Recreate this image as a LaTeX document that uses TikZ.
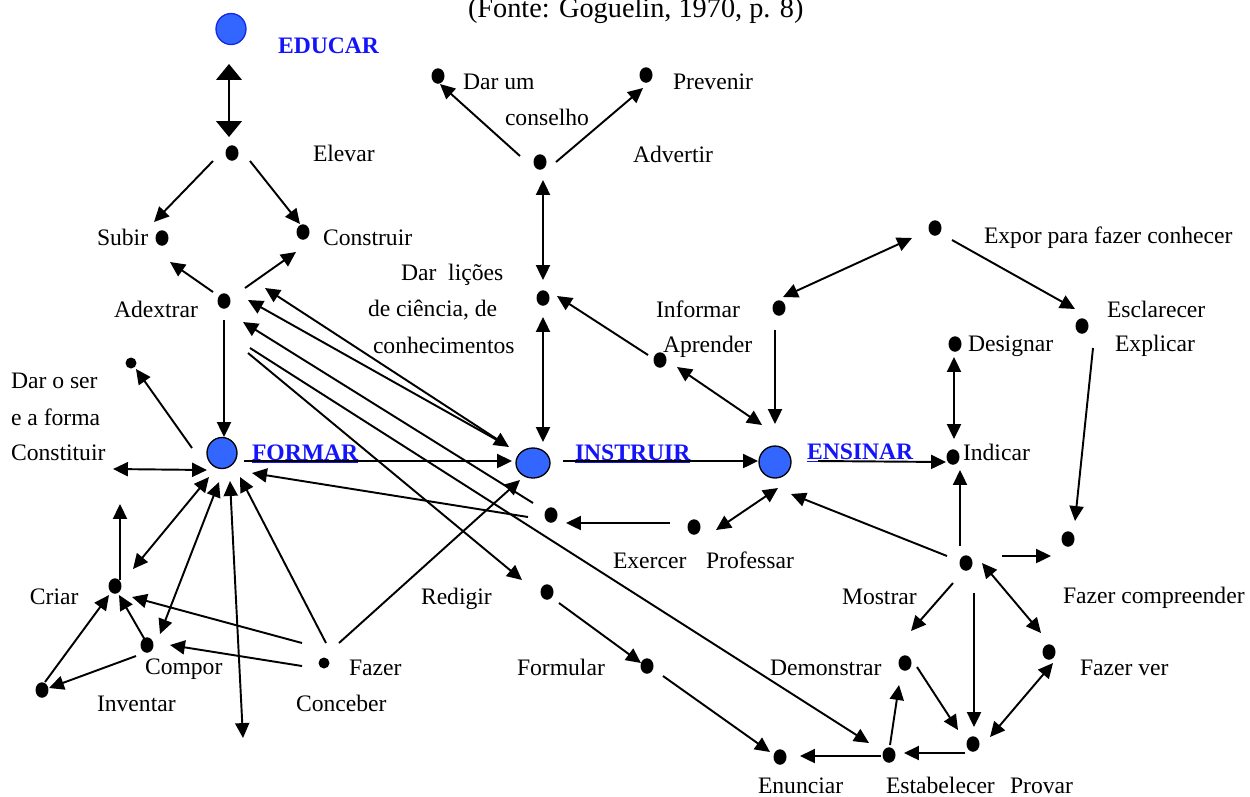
\documentclass[tikz,border=0pt]{standalone}
\usepackage{fontspec}
\setmainfont{Liberation Serif}
\usetikzlibrary{arrows.meta,shapes.geometric}
\definecolor{nodeblue}{RGB}{51,102,255}
\definecolor{txtblue}{RGB}{20,20,250}
\definecolor{educarline}{RGB}{20,40,230}
\begin{document}
\begin{tikzpicture}[x=0.02cm,y=-0.02cm,
  every node/.style={font=\fontsize{13.44pt}{16pt}\selectfont},
  lbl/.style={anchor=base west, inner sep=0pt, outer sep=0pt},
  keylbl/.style={lbl, font=\fontsize{13.44pt}{16pt}\selectfont\bfseries, text=txtblue},
  blackdot/.style={ellipse, fill=black, inner sep=0pt, minimum width=0.26cm, minimum height=0.31cm},
  smalldot/.style={circle, fill=black, inner sep=0pt, minimum size=0.22cm},
  bignode/.style={ellipse, fill=nodeblue, draw=black, line width=0.75pt, inner sep=0pt, minimum width=0.6cm, minimum height=0.62cm},
  conn/.style={line width=1.1pt, -{Triangle[length=8.5pt,width=8pt]}},
  dconn/.style={line width=1.1pt, {Triangle[length=8.5pt,width=8pt]}-{Triangle[length=8.5pt,width=8pt]}},
  bigdconn/.style={line width=1.1pt, {Triangle[length=9pt,width=14.5pt]}-{Triangle[length=9pt,width=14.5pt]}},
]
\fill[white] (0,0) rectangle (1250,796);
\useasboundingbox (0,0) rectangle (1250,796);

% title
\node[lbl, font=\fontsize{16.1pt}{19pt}\selectfont] (title) at (468,17) {(Fonte: Goguelin, 1970, p. 8)};

% main nodes
\node[bignode, draw=educarline] (educar) at (231,29) {};
\node[bignode] (formar) at (222,453) {};
\node[bignode, minimum width=0.68cm, minimum height=0.6cm] (instruir) at (533,463) {};
\node[bignode, minimum width=0.64cm, minimum height=0.64cm] (ensinar) at (775,462) {};

\node[keylbl] (educarlbl) at (278,53) {EDUCAR};
\node[keylbl] (formarlbl) at (252,460) {\underline{FORMAR}};
\node[keylbl] (instruirlbl) at (575,460) {\underline{INSTRUIR}};
\node[keylbl] (ensinarlbl) at (807,459) {\underline{ENSINAR}};

% dots
\node[blackdot] (elevar) at (232,153) {};
\node[blackdot] (subir) at (162,238) {};
\node[blackdot] (construir) at (303,232) {};
\node[blackdot] (adextrar) at (224,301) {};
\node[blackdot] (indicar) at (953,457) {};
\node[blackdot] (designar) at (955,344) {};
\node[blackdot] (mostrar) at (966,563) {};
\node[blackdot] (fazcomp) at (1068,539) {};
\node[blackdot] (esclarecer) at (1082,326) {};
\node[blackdot] (expor) at (935,228) {};
\node[blackdot] (informar) at (779,308) {};
\node[blackdot] (aprender) at (660,360) {};
\node[blackdot] (darlicoes) at (543,298) {};
\node[blackdot] (advertir) at (540,162) {};
\node[blackdot] (conselho) at (438,76) {};
\node[blackdot] (prevenir) at (646,75) {};
\node[smalldot] (darser) at (131,363) {};
\node[blackdot] (criar) at (115,586) {};
\node[blackdot] (compor) at (147,645) {};
\node[blackdot] (inventar) at (42,690) {};
\node[smalldot] (fazer) at (324,663) {};
\node[blackdot] (exercer) at (551,515) {};
\node[blackdot] (professar) at (694,527) {};
\node[blackdot] (redigir) at (547,592) {};
\node[blackdot] (formular) at (647,666) {};
\node[blackdot] (enunciar) at (780,757) {};
\node[blackdot] (estabelecer) at (889,755) {};
\node[blackdot] (demonstrar) at (905,663) {};
\node[blackdot] (provar) at (973,744) {};
\node[blackdot] (fazerver) at (1049,652) {};

% free ends
\coordinate (constituirend) at (113,469);
\coordinate (criarup) at (120,504);
\coordinate (bottomend) at (243,738);

% labels
\node[lbl] (t1) at (313,161) {Elevar};
\node[lbl] (t2) at (97,245) {Subir};
\node[lbl] (t3) at (323,245) {Construir};
\node[lbl] (t4) at (114,317) {Adextrar};
\node[lbl] (t5) at (401,280) {Dar\ \ lições};
\node[lbl] (t6) at (368,316) {de ciência, de};
\node[lbl] (t7) at (373,353) {conhecimentos};
\node[lbl] (t8) at (463,89) {Dar um};
\node[lbl] (t9) at (505,125) {conselho};
\node[lbl] (t10) at (673,89) {Prevenir};
\node[lbl] (t11) at (633,162) {Advertir};
\node[lbl] (t12) at (656,317) {Informar};
\node[lbl] (t13) at (663,352) {Aprender};
\node[lbl] (t14) at (984,243) {Expor para fazer conhecer};
\node[lbl] (t15) at (1107,317) {Esclarecer};
\node[lbl] (t16) at (1115,351) {Explicar};
\node[lbl] (t17) at (968,351) {Designar};
\node[lbl] (t18) at (963,460) {Indicar};
\node[lbl] (t19) at (11,388) {Dar o ser};
\node[lbl] (t20) at (11,425) {e a forma};
\node[lbl] (t21) at (11,460) {Constituir};
\node[lbl] (t22) at (30,604) {Criar};
\node[lbl] (t23) at (145,674) {Compor};
\node[lbl] (t24) at (97,711) {Inventar};
\node[lbl] (t25) at (349,675) {Fazer};
\node[lbl] (t26) at (296,711) {Conceber};
\node[lbl] (t27) at (421,604) {Redigir};
\node[lbl] (t28) at (517,675) {Formular};
\node[lbl] (t29) at (613,568) {Exercer};
\node[lbl] (t30) at (706,568) {Professar};
\node[lbl] (t31) at (842,604) {Mostrar};
\node[lbl] (t32) at (1063,603) {Fazer compreender};
\node[lbl] (t33) at (770,675) {Demonstrar};
\node[lbl] (t34) at (1080,675) {Fazer ver};
\node[lbl] (t35) at (758,793) {Enunciar};
\node[lbl] (t36) at (886,793) {Estabelecer};
\node[lbl] (t37) at (1010,793) {Provar};

% connectors
\draw[bigdconn] ([shift={(-2,35)}]educar.center) -- ([shift={(-3,-16)}]elevar.center);
\draw[conn] ([shift={(-19,8)}]elevar.center) -- ([shift={(-8,-16)}]subir.center);
\draw[conn] ([shift={(18,8)}]elevar.center) -- ([shift={(-3,-8)}]construir.center);
\draw[conn] ([shift={(-11,-9)}]adextrar.center) -- ([shift={(8,24)}]subir.center);
\draw[conn] ([shift={(21,-13)}]adextrar.center) -- ([shift={(-7,20)}]construir.center);
\draw[conn] ([shift={(0,19)}]adextrar.center) -- ([shift={(2,-16)}]formar.center);
\draw[dconn] ([shift={(41,-13)}]adextrar.center) -- ([shift={(-24,-16)}]instruir.center);
\draw[conn] ([shift={(-36,-23)}]instruir.center) -- ([shift={(24,-1)}]adextrar.center);
\draw[conn] ([shift={(-18,-12)}]exercer.center) -- ([shift={(19,21)}]adextrar.center);
\draw[conn] ([shift={(26,47)}]adextrar.center) -- ([shift={(-20,-12)}]estabelecer.center);
\draw[conn] ([shift={(24,52)}]adextrar.center) -- ([shift={(-25,-12)}]redigir.center);
\draw[conn] ([shift={(22,8)}]formar.center) -- ([shift={(-21,-2)}]instruir.center);
\draw[conn] ([shift={(30,-2)}]instruir.center) -- ([shift={(-17,-1)}]ensinar.center);
\draw[conn] ([shift={(43,-1)}]ensinar.center) -- ([shift={(-7,5)}]indicar.center);
\draw[dconn] ([shift={(-1,13)}]designar.center) -- ([shift={(1,-18)}]indicar.center);
\draw[conn] ([shift={(-6,-17)}]mostrar.center) -- ([shift={(7,13)}]indicar.center);
\draw[conn] ([shift={(-19,-7)}]mostrar.center) -- ([shift={(16,32)}]ensinar.center);
\draw[conn] ([shift={(36,-7)}]mostrar.center) -- ([shift={(-17,17)}]fazcomp.center);
\draw[conn] ([shift={(11,22)}]esclarecer.center) -- ([shift={(7,-18)}]fazcomp.center);
\draw[conn] ([shift={(17,12)}]expor.center) -- ([shift={(-7,-17)}]esclarecer.center);
\draw[dconn] ([shift={(-23,10)}]expor.center) -- ([shift={(4,-11)}]informar.center);
\draw[conn] ([shift={(-4,22)}]informar.center) -- ([shift={(0,-38)}]ensinar.center);
\draw[dconn] ([shift={(17,7)}]aprender.center) -- ([shift={(-13,-37)}]ensinar.center);
\draw[conn] ([shift={(-12,-5)}]aprender.center) -- ([shift={(14,-2)}]darlicoes.center);
\draw[dconn] ([shift={(0,19)}]darlicoes.center) -- ([shift={(10,-21)}]instruir.center);
\draw[dconn] ([shift={(3,18)}]advertir.center) -- ([shift={(0,-18)}]darlicoes.center);
\draw[conn] ([shift={(-20,-6)}]advertir.center) -- ([shift={(2,8)}]conselho.center);
\draw[conn] ([shift={(16,0)}]advertir.center) -- ([shift={(-3,13)}]prevenir.center);
\draw[conn] ([shift={(-30,-5)}]formar.center) -- ([shift={(5,6)}]darser.center);
\draw[dconn] (constituirend) -- ([shift={(-15,17)}]formar.center);
\draw[conn] ([shift={(5,-6)}]criar.center) -- (criarup);
\draw[dconn] ([shift={(-13,24)}]formar.center) -- ([shift={(18,-17)}]criar.center);
\draw[dconn] ([shift={(-3,29)}]formar.center) -- ([shift={(13,-11)}]compor.center);
\draw[dconn] ([shift={(8,28)}]formar.center) -- (bottomend);
\draw[conn] ([shift={(2,-20)}]fazer.center) -- ([shift={(18,24)}]formar.center);
\draw[conn] ([shift={(15,-20)}]fazer.center) -- ([shift={(-13,17)}]instruir.center);
\draw[conn] ([shift={(-22,-20)}]fazer.center) -- ([shift={(17,11)}]criar.center);
\draw[conn] ([shift={(-22,3)}]fazer.center) -- ([shift={(23,0)}]compor.center);
\draw[conn] ([shift={(-2,-5)}]compor.center) -- ([shift={(4,9)}]criar.center);
\draw[conn] ([shift={(-11,11)}]compor.center) -- ([shift={(7,-2)}]inventar.center);
\draw[conn] ([shift={(3,-8)}]inventar.center) -- ([shift={(-6,9)}]criar.center);
\draw[conn] ([shift={(-23,2)}]exercer.center) -- ([shift={(30,20)}]formar.center);
\draw[conn] ([shift={(-24,-4)}]professar.center) -- ([shift={(15,8)}]exercer.center);
\draw[dconn] ([shift={(22,3)}]professar.center) -- ([shift={(3,26)}]ensinar.center);
\draw[conn] ([shift={(12,11)}]redigir.center) -- ([shift={(-6,-3)}]formular.center);
\draw[conn] ([shift={(16,10)}]formular.center) -- ([shift={(-10,-5)}]enunciar.center);
\draw[conn] ([shift={(-8,1)}]estabelecer.center) -- ([shift={(20,-1)}]enunciar.center);
\draw[conn] ([shift={(1,-10)}]estabelecer.center) -- ([shift={(-6,22)}]demonstrar.center);
\draw[conn] ([shift={(12,4)}]demonstrar.center) -- ([shift={(-15,-14)}]provar.center);
\draw[conn] ([shift={(-8,9)}]provar.center) -- ([shift={(15,-2)}]estabelecer.center);
\draw[conn] ([shift={(8,30)}]mostrar.center) -- ([shift={(1,-17)}]provar.center);
\draw[conn] ([shift={(-13,20)}]mostrar.center) -- ([shift={(6,-32)}]demonstrar.center);
\draw[dconn] ([shift={(16,0)}]mostrar.center) -- ([shift={(-8,-19)}]fazerver.center);
\draw[dconn] ([shift={(17,-7)}]provar.center) -- ([shift={(4,11)}]fazerver.center);
\end{tikzpicture}
\end{document}
